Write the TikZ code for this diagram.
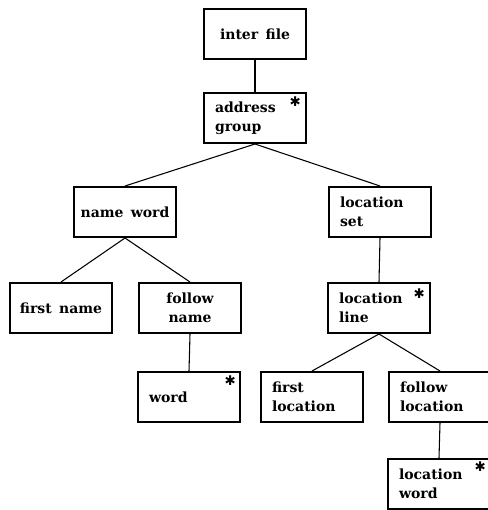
\documentclass[tikz,border=0pt]{standalone}
\usepackage{fontspec}
\setmainfont[WordSpace=1.5]{DejaVu Serif}
\newfontfamily\symfont{DejaVu Sans}

\begin{document}
\begin{tikzpicture}[
  x=0.75pt, y=-0.75pt,
  font=\fontsize{10.5}{14}\selectfont\bfseries,
  box/.style = {
    rectangle, draw=black, line width=1.5pt,
    minimum width=76.5pt, minimum height=37.5pt, align=center,
  },
  boxleft/.style = {
    box, text width=60pt, align=left,
  },
  asterisk/.style = {
    anchor=north east, inner sep=0pt, font=\symfont\fontsize{10}{10}\selectfont,
  },
  link/.style = {line width=0.8pt, draw=black},
]
  \useasboundingbox (0,0) rectangle (488,510);

  \node[box]      (ifile)  at (255,34)  {inter file};
  \node[boxleft]  (agroup) at (255,118) {address\\group};
  \node[box]      (nword)  at (125,212) {name word};
  \node[boxleft]  (lset)   at (380,212) {location\\set};
  \node[box]      (fname)  at (61,308)  {first name};
  \node[box]      (fwname) at (190,308) {follow\\name};
  \node[boxleft]  (lline)  at (379,308) {location\\line};
  \node[boxleft]  (word)   at (189,397) {word};
  \node[boxleft]  (floc)   at (312,397) {first\\location};
  \node[boxleft]  (fwloc)  at (440,397) {follow\\location};
  \node[boxleft]  (lword)  at (439,484) {location\\word};

  % repetition marks
  \node[asterisk] (agroup-s) at ([shift={(-6,5)}]agroup.north east) {✱};
  \node[asterisk] (lline-s)  at ([shift={(-6,7)}]lline.north east)  {✱};
  \node[asterisk] (word-s)   at ([shift={(-5,5)}]word.north east)   {✱};
  \node[asterisk] (lword-s)  at ([shift={(-5,4)}]lword.north east)  {✱};

  \draw[link] (ifile.south)  -- (agroup.north);
  \draw[link] (agroup.south) -- (nword.north);
  \draw[link] (agroup.south) -- (lset.north);
  \draw[link] (nword.south)  -- (fname.north);
  \draw[link] (nword.south)  -- (fwname.north);
  \draw[link] (fwname.south) -- (word.north);
  \draw[link] (lset.south)   -- (lline.north);
  \draw[link] (lline.south)  -- (floc.north);
  \draw[link] (lline.south)  -- (fwloc.north);
  \draw[link] (fwloc.south)  -- (lword.north);
\end{tikzpicture}
\end{document}
